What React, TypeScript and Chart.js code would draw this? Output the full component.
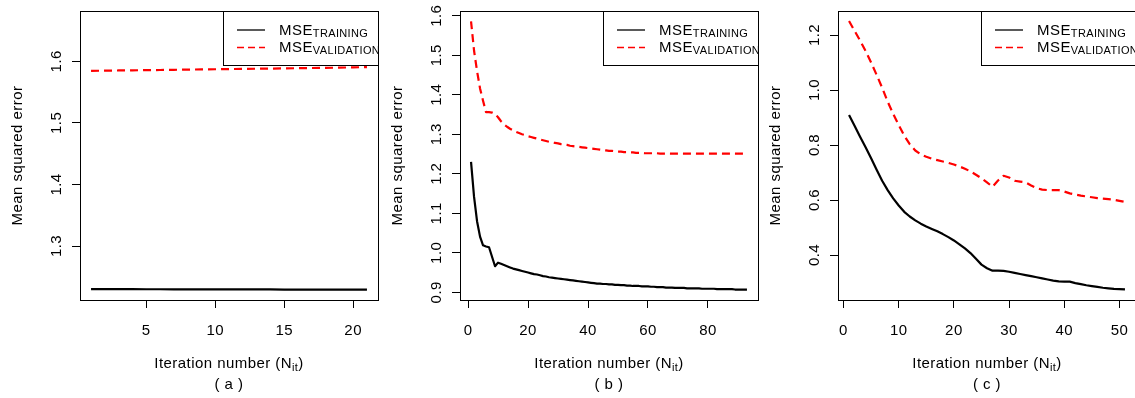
import React, { useEffect, useRef } from "react";
import { Chart, registerables } from "chart.js";

Chart.register(...registerables);

// ---------- texts ----------
const panelLabels = ["( a )", "( b )", "( c )"];
const yTitle = "Mean squared error";
const xTitleMain = "Iteration number (N";
const xTitleSub = "it";
const xTitleEnd = ")";
const legendMain = "MSE";
const legendSubs = ["TRAINING", "VALIDATION"];

// ---------- data ----------
const trainA = [
  1.2300, 1.2300, 1.2299, 1.2299, 1.2298, 1.2298, 1.2297, 1.2297, 1.2296, 1.2296,
  1.2295, 1.2295, 1.2294, 1.2294, 1.2293, 1.2293, 1.2292, 1.2292, 1.2291, 1.2291,
  1.2290,
];
const valA = [
  1.5845, 1.5848, 1.5851, 1.5854, 1.5856, 1.5859, 1.5862, 1.5865, 1.5868, 1.5871,
  1.5874, 1.5876, 1.5879, 1.5882, 1.5885, 1.5888, 1.5891, 1.5894, 1.5897, 1.5901,
  1.5906,
];
const trainB = [
  1.230, 1.142, 1.080, 1.041, 1.019, 1.016, 1.014, 0.990, 0.966, 0.975,
  0.972, 0.969, 0.966, 0.963, 0.960, 0.958, 0.956, 0.954, 0.952, 0.950,
  0.948, 0.946, 0.945, 0.943, 0.941, 0.940, 0.938, 0.937, 0.936, 0.935,
  0.934, 0.933, 0.932, 0.931, 0.930, 0.929, 0.928, 0.927, 0.926, 0.925,
  0.924, 0.923, 0.922, 0.922, 0.921, 0.921, 0.920, 0.920, 0.919, 0.919,
  0.918, 0.918, 0.917, 0.917, 0.916, 0.916, 0.916, 0.915, 0.915, 0.915,
  0.914, 0.914, 0.913, 0.913, 0.913, 0.912, 0.912, 0.912, 0.911, 0.911,
  0.911, 0.911, 0.910, 0.910, 0.910, 0.910, 0.910, 0.909, 0.909, 0.909,
  0.909, 0.909, 0.908, 0.908, 0.908, 0.908, 0.908, 0.908, 0.907, 0.907,
  0.907, 0.907, 0.907,
];
const valB = [
  1.586, 1.512, 1.460, 1.416, 1.385, 1.356, 1.356, 1.355, 1.352, 1.343,
  1.333, 1.325, 1.319, 1.314, 1.310, 1.306, 1.303, 1.300, 1.298, 1.295,
  1.293, 1.291, 1.289, 1.287, 1.285, 1.283, 1.281, 1.280, 1.278, 1.277,
  1.275, 1.274, 1.273, 1.271, 1.270, 1.269, 1.268, 1.267, 1.266, 1.265,
  1.264, 1.263, 1.262, 1.261, 1.260, 1.259, 1.258, 1.258, 1.257, 1.256,
  1.256, 1.255, 1.255, 1.254, 1.254, 1.253, 1.253, 1.253, 1.252, 1.252,
  1.252, 1.252, 1.252, 1.251, 1.251, 1.251, 1.251, 1.251, 1.251, 1.251,
  1.251, 1.251, 1.251, 1.251, 1.251, 1.251, 1.251, 1.251, 1.251, 1.251,
  1.251, 1.251, 1.251, 1.251, 1.251, 1.251, 1.251, 1.251, 1.251, 1.251,
  1.251, 1.251, 1.251,
];
const trainC = [
  0.909, 0.870, 0.830, 0.792, 0.752, 0.710, 0.670, 0.636, 0.606, 0.580,
  0.557, 0.540, 0.526, 0.514, 0.504, 0.495, 0.486, 0.476, 0.465, 0.453,
  0.439, 0.424, 0.407, 0.386, 0.365, 0.352, 0.343, 0.343, 0.342, 0.339,
  0.335, 0.331, 0.327, 0.323, 0.319, 0.315, 0.311, 0.307, 0.304, 0.303,
  0.303, 0.298, 0.294, 0.290, 0.287, 0.284, 0.281, 0.279, 0.277, 0.276,
  0.275,
];
const valC = [
  1.251, 1.215, 1.180, 1.142, 1.100, 1.055, 1.008, 0.958, 0.913, 0.873,
  0.834, 0.803, 0.780, 0.766, 0.757, 0.750, 0.745, 0.740, 0.735, 0.729,
  0.722, 0.714, 0.704, 0.692, 0.679, 0.664, 0.648, 0.671, 0.688, 0.682,
  0.670, 0.667, 0.664, 0.653, 0.643, 0.638, 0.636, 0.636, 0.636, 0.631,
  0.624, 0.620, 0.616, 0.613, 0.610, 0.607, 0.605, 0.603, 0.601, 0.597,
  0.593,
];

const xTicksA = [5, 10, 15, 20];
const xTicksB = [0, 20, 40, 60, 80];
const xTicksC = [0, 10, 20, 30, 40, 50];
const yTicksA = ["1.3", "1.4", "1.5", "1.6"];
const yTicksB = ["0.9", "1.0", "1.1", "1.2", "1.3", "1.4", "1.5", "1.6"];
const yTicksC = ["0.4", "0.6", "0.8", "1.0", "1.2"];

// ---------- layout / styling ----------
const CW = 1140;
const CH = 398;
const TOP = 11;
const BOTTOM = 300;
const YW = 50;
const XH = 30;
const FONT_FAMILY = '"Liberation Sans", Arial, Helvetica, sans-serif';
const MAIN_FONT = `15px ${FONT_FAMILY}`;
const SUB_FONT = `11px ${FONT_FAMILY}`;
const MAIN_SPACING = "0.45px";
const SUB_SPACING = "0.35px";

const panels = [
  { left: 80, right: 378, xMin: 0.2, xMax: 21.8, yMin: 1.2123, yMax: 1.6817,
    train: trainA, val: valA, xTicks: xTicksA, yTicks: yTicksA, label: panelLabels[0] },
  { left: 460, right: 758, xMin: -2.68, xMax: 96.68, yMin: 0.8805, yMax: 1.612,
    train: trainB, val: valB, xTicks: xTicksB, yTicks: yTicksB, label: panelLabels[1] },
  { left: 838, right: 1136, xMin: -1, xMax: 53, yMin: 0.2364, yMax: 1.2873,
    train: trainC, val: valC, xTicks: xTicksC, yTicks: yTicksC, label: panelLabels[2] },
];

type Part = { text: string; sub?: boolean };

function setFont(ctx: any, sub: boolean) {
  ctx.font = sub ? SUB_FONT : MAIN_FONT;
  ctx.letterSpacing = sub ? SUB_SPACING : MAIN_SPACING;
}

function drawParts(ctx: CanvasRenderingContext2D, parts: Part[], x: number, y: number, center: boolean, subDrop: number) {
  let total = 0;
  const widths = parts.map((p) => {
    setFont(ctx, !!p.sub);
    const w = ctx.measureText(p.text).width;
    total += w;
    return w;
  });
  let cx = center ? x - total / 2 : x;
  ctx.textAlign = "left";
  ctx.textBaseline = "alphabetic";
  parts.forEach((p, i) => {
    setFont(ctx, !!p.sub);
    ctx.fillText(p.text, cx, p.sub ? y + subDrop : y);
    cx += widths[i];
  });
}

function makeDeco(p: any) {
  return {
    id: "deco",
    afterDraw(chart: any) {
      const ctx: CanvasRenderingContext2D = chart.ctx;
      const { left: L, right: R, top: T, bottom: B } = chart.chartArea;
      const xs = chart.scales.x;
      const ys = chart.scales.y;
      ctx.save();
      ctx.fillStyle = "#000";
      ctx.strokeStyle = "#000";
      ctx.lineWidth = 1;
      ctx.setLineDash([]);
      // box
      ctx.strokeRect(L + 0.5, T + 0.5, R - L, B - T);

      // x tick labels
      setFont(ctx, false);
      ctx.textAlign = "center";
      ctx.textBaseline = "alphabetic";
      p.xTicks.forEach((v: number) => {
        ctx.fillText(String(v), xs.getPixelForValue(v), 334.5);
      });
      // y tick labels (rotated)
      p.yTicks.forEach((s: string) => {
        const py = ys.getPixelForValue(parseFloat(s));
        ctx.save();
        ctx.translate(L - 19.5, py);
        ctx.rotate(-Math.PI / 2);
        ctx.textAlign = "center";
        ctx.fillText(s, 0, 0);
        ctx.restore();
      });
      // y title
      ctx.save();
      ctx.translate(L - 58.5, (T + B) / 2);
      ctx.rotate(-Math.PI / 2);
      ctx.textAlign = "center";
      setFont(ctx, false);
      ctx.fillText(yTitle, 0, 0);
      ctx.restore();
      // x title
      drawParts(ctx, [{ text: xTitleMain }, { text: xTitleSub, sub: true }, { text: xTitleEnd }], (L + R) / 2, 367.5, true, 3.5);
      // panel label
      setFont(ctx, false);
      ctx.textAlign = "center";
      ctx.fillText(p.label, (L + R) / 2, 388.5);

      // legend (clipped to the plot region)
      ctx.save();
      ctx.beginPath();
      ctx.rect(L, T, R - L, B - T);
      ctx.clip();
      const lx = L + 143;
      ctx.lineWidth = 1;
      ctx.strokeRect(lx + 0.5, T + 0.5, 400, 54);
      ctx.lineWidth = 1.3;
      ctx.beginPath();
      ctx.moveTo(L + 157, T + 19);
      ctx.lineTo(L + 185, T + 19);
      ctx.stroke();
      ctx.strokeStyle = "#ff0000";
      ctx.setLineDash([7, 4]);
      ctx.beginPath();
      ctx.moveTo(L + 157, T + 36.5);
      ctx.lineTo(L + 185, T + 36.5);
      ctx.stroke();
      ctx.setLineDash([]);
      ctx.fillStyle = "#000";
      drawParts(ctx, [{ text: legendMain }, { text: legendSubs[0], sub: true }], L + 199, T + 23.7, false, 1.8);
      drawParts(ctx, [{ text: legendMain }, { text: legendSubs[1], sub: true }], L + 199, T + 40.5, false, 2.2);
      ctx.restore();

      ctx.restore();
    },
  };
}

function buildChart(canvas: HTMLCanvasElement, p: any) {
  const pts = (arr: number[]) => arr.map((v, i) => ({ x: i + 1, y: v }));
  return new Chart(canvas, {
    type: "line",
    data: {
      datasets: [
        {
          data: pts(p.train),
          borderColor: "#000000",
          borderWidth: 2.2,
          pointRadius: 0,
          tension: 0,
          fill: false,
          borderJoinStyle: "round",
        },
        {
          data: pts(p.val),
          borderColor: "#ff0000",
          borderWidth: 2.2,
          borderDash: [8, 5],
          borderCapStyle: "butt",
          pointRadius: 0,
          tension: 0,
          fill: false,
          borderJoinStyle: "round",
        },
      ],
    },
    options: {
      responsive: false,
      animation: false,
      events: [],
      layout: {
        padding: { left: p.left - YW, right: CW - p.right, top: TOP, bottom: CH - BOTTOM - XH },
      },
      plugins: { legend: { display: false }, tooltip: { enabled: false }, title: { display: false } },
      scales: {
        x: {
          type: "linear",
          position: "bottom",
          min: p.xMin,
          max: p.xMax,
          afterBuildTicks: (ax: any) => {
            ax.ticks = p.xTicks.map((v: number) => ({ value: v }));
          },
          afterFit: (s: any) => {
            s.height = XH;
          },
          ticks: { display: false },
          grid: { display: true, drawOnChartArea: false, drawTicks: true, tickLength: 8, color: "#000", lineWidth: 1 },
          border: { display: false },
        },
        y: {
          type: "linear",
          position: "left",
          min: p.yMin,
          max: p.yMax,
          afterBuildTicks: (ax: any) => {
            ax.ticks = p.yTicks.map((s: string) => ({ value: parseFloat(s) }));
          },
          afterFit: (s: any) => {
            s.width = YW;
          },
          ticks: { display: false },
          grid: { display: true, drawOnChartArea: false, drawTicks: true, tickLength: 8, color: "#000", lineWidth: 1 },
          border: { display: false },
        },
      },
    },
    plugins: [makeDeco(p)],
  } as any);
}

export default function App() {
  const r0 = useRef<HTMLCanvasElement>(null);
  const r1 = useRef<HTMLCanvasElement>(null);
  const r2 = useRef<HTMLCanvasElement>(null);

  useEffect(() => {
    const refs = [r0, r1, r2];
    const charts = refs.map((r, i) => buildChart(r.current as HTMLCanvasElement, panels[i]));
    return () => charts.forEach((c) => c.destroy());
  }, []);

  const cs: React.CSSProperties = { position: "absolute", left: 0, top: 0, width: CW, height: CH, display: "block" };
  return (
    <div style={{ position: "absolute", left: 0, top: 0, width: 1135, height: 398, overflow: "hidden", background: "#fff" }}>
      <canvas ref={r0} width={CW} height={CH} style={cs} />
      <canvas ref={r1} width={CW} height={CH} style={cs} />
      <canvas ref={r2} width={CW} height={CH} style={cs} />
    </div>
  );
}
